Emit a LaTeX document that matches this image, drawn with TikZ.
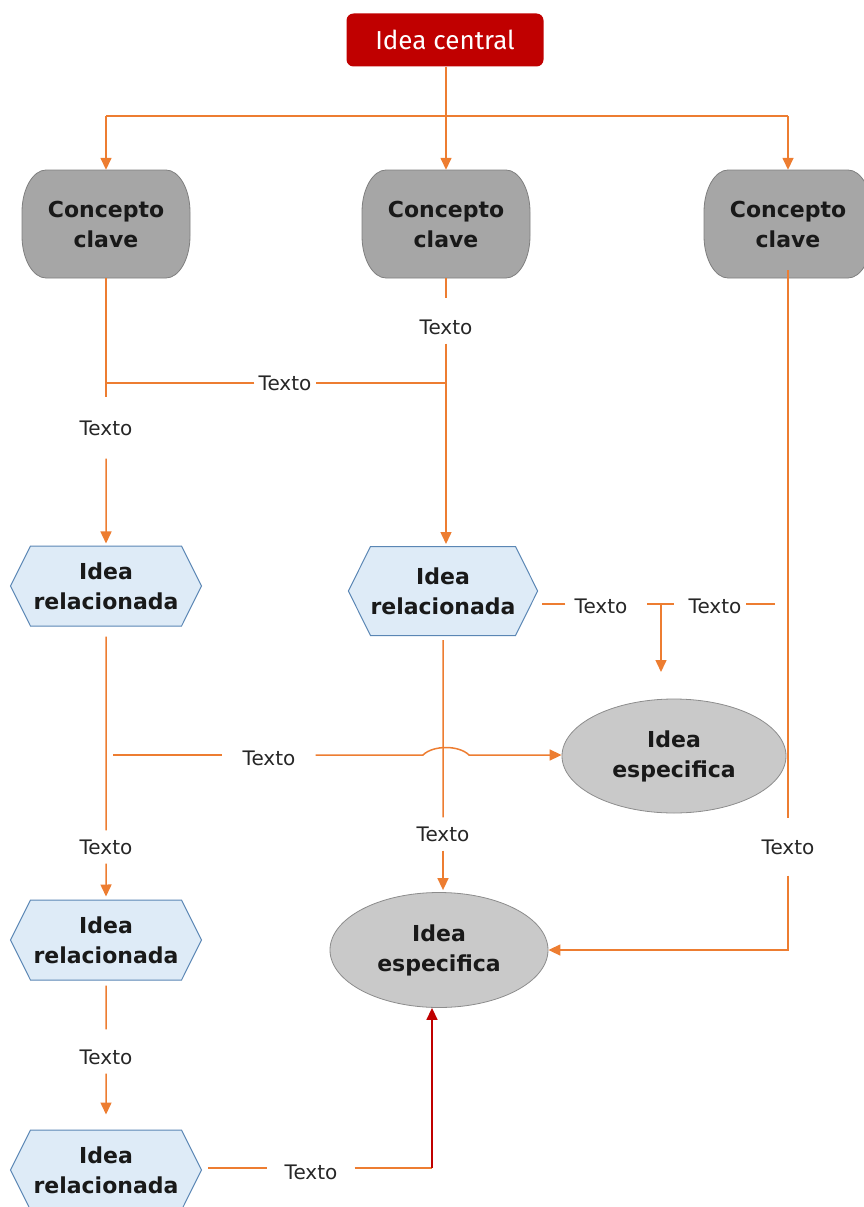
\documentclass[tikz,border=0pt]{standalone}
\usepackage{fontspec}
\setmainfont{DejaVu Sans}
\newfontfamily\centralfont{Fira Sans}
\usetikzlibrary{arrows.meta,shapes.symbols,shapes.geometric,backgrounds}
\definecolor{org}{HTML}{ED7D31}
\definecolor{dred}{HTML}{C00000}
\definecolor{cgray}{HTML}{A6A6A6}
\definecolor{cborder}{HTML}{7F7F7F}
\definecolor{hfill}{HTML}{DEEBF7}
\definecolor{hborder}{HTML}{5A86B4}
\definecolor{egray}{HTML}{C9C9C9}
\definecolor{eborder}{HTML}{8C8C8C}
\definecolor{textc}{HTML}{262626}
\newcommand\ckshape[1]{%
  \path[fill=cgray,draw=cborder,line width=0.8pt]
    ([shift={(-60,-54)}]#1.center) -- ([shift={(60,-54)}]#1.center)
    .. controls ([shift={(73,-54)}]#1.center) and ([shift={(84,-35)}]#1.center) .. ([shift={(84,-12)}]#1.center)
    -- ([shift={(84,12)}]#1.center)
    .. controls ([shift={(84,35)}]#1.center) and ([shift={(73,54)}]#1.center) .. ([shift={(60,54)}]#1.center)
    -- ([shift={(-60,54)}]#1.center)
    .. controls ([shift={(-73,54)}]#1.center) and ([shift={(-84,35)}]#1.center) .. ([shift={(-84,12)}]#1.center)
    -- ([shift={(-84,-12)}]#1.center)
    .. controls ([shift={(-84,-35)}]#1.center) and ([shift={(-73,-54)}]#1.center) .. cycle;}
\begin{document}
\begin{tikzpicture}[x=1pt,y=-1pt,
  conn/.style={draw=org,line width=1.5pt},
  arr/.style={conn,-{Triangle[width=11pt,length=12pt]}},
  redarr/.style={draw=dred,line width=1.5pt,-{Triangle[width=11pt,length=12pt]}},
  lbl/.style={font=\fontsize{20}{24}\selectfont,text=textc,inner xsep=6pt,inner ysep=9pt},
  central/.style={rectangle,rounded corners=7pt,fill=dred,text=white,minimum width=197pt,minimum height=53pt,font=\centralfont\fontsize{26}{30}\selectfont},
  concept/.style={rectangle,minimum width=168pt,minimum height=108pt,align=center,text=black!90,font=\bfseries\fontsize{22}{30}\selectfont},
  hexa/.style={signal,signal to=west and east,signal pointer angle=127,fill=hfill,draw=hborder,line width=1pt,minimum width=191pt,minimum height=80pt,inner sep=0pt,align=center,text=black!90,font=\bfseries\fontsize{22}{30}\selectfont},
  ell/.style={ellipse,fill=egray,draw=eborder,line width=0.8pt,minimum width=224pt,minimum height=114pt,inner sep=0pt,align=center,text=black!90,font=\bfseries\fontsize{22}{30}\selectfont}]
\useasboundingbox (0,0) rectangle (863,1207);

% nodes
\node[central] (ic) at (445,40) {Idea central};
\node[concept] (cL) at (106,224) {Concepto\\clave};
\node[concept] (cM) at (446,224) {Concepto\\clave};
\node[concept] (cR) at (788,224) {Concepto\\clave};
\begin{scope}[on background layer]
  \ckshape{cL}\ckshape{cM}\ckshape{cR}
\end{scope}
\node[hexa] (hL1) at (106,586) {Idea\\relacionada};
\node[hexa,minimum width=178pt,minimum height=89pt] (hM) at (443,591) {Idea\\relacionada};
\node[hexa] (hL2) at (106,940) {Idea\\relacionada};
\node[hexa] (hL3) at (106,1170) {Idea\\relacionada};
\node[ell] (eU) at (674,756) {Idea\\especifica};
\node[ell,minimum width=218pt,minimum height=115pt] (eL) at (439,950) {Idea\\especifica};

% labels
\node[lbl,inner ysep=23pt] (tL1) at (106,428) {Texto};
\node[lbl] (tM1) at (446,327) {Texto};
\node[lbl,inner xsep=4pt] (tH1) at (285,383) {Texto};
\node[lbl,inner xsep=9pt] (tE1) at (601,606) {Texto};
\node[lbl,inner xsep=4pt] (tE2) at (715,606) {Texto};
\node[lbl,inner xsep=20pt] (tJ) at (269,758) {Texto};
\node[lbl] (tL2) at (106,847) {Texto};
\node[lbl] (tM2) at (443,834) {Texto};
\node[lbl,inner ysep=21pt] (tR) at (788,847) {Texto};
\node[lbl] (tL3) at (106,1057) {Texto};
\node[lbl,inner xsep=17pt] (tB) at (311,1172) {Texto};

% coordinates
\coordinate (bar) at (446,116);
\coordinate (j1) at (446,383);
\coordinate (j2) at (661,604);
\coordinate (j2a) at (647,604);
\coordinate (j2b) at (674,604);
\coordinate (a2) at (661,672);
\coordinate (e2) at (775,604);
\coordinate (jA) at (113,755);
\coordinate (jb1) at (423,755);
\coordinate (jb2) at (469,755);
\coordinate (cB) at (432,1168);

% top connectors
\draw[arr] (ic.south -| cM) -- (cM.north);
\draw[conn] (bar -| cL) -- (bar -| cR);
\draw[arr] (bar -| cL) -- (cL.north);
\draw[arr] (bar -| cR) -- (cR.north);

% left column
\draw[conn] (cL) -- (tL1);
\draw[arr,shorten >=2pt] (tL1) -- (hL1);
\draw[conn,shorten <=10pt] (hL1) -- (tL2);
\draw[arr,shorten >=3pt] (tL2) -- (hL2);
\draw[conn,shorten <=5pt,shorten >=11pt] (hL2) -- (tL3);
\draw[arr,shorten >=15pt] (tL3) -- (hL3);

% middle column
\draw[conn,shorten >=12pt] (cM) -- (tM1);
\draw[arr,shorten >=2pt] (tM1) -- (tM1 |- hM.north);
\draw[conn] (j1) -- (tH1);
\draw[conn] (tH1) -- (j1 -| cL);
\draw[conn,shorten <=4pt] (hM) -- (tM2);
\draw[arr,shorten >=2pt] (tM2) -- (tM2 |- eL.north);

% right side of middle hexagon
\draw[conn,shorten >=4pt] (tE1.west |- j2) -- (j2 -| hM.east);
\draw[conn] (j2a) -- (j2b);
\draw[arr] (j2) -- (a2);
\draw[conn] (e2) -- (tE2.east |- e2);

% right column
\draw[conn] ([yshift=8pt]cR.south) -- (tR);
\draw[arr] (tR) |- (eL);

% jump line
\draw[conn] (jA) -- (tJ.west |- jA);
\draw[arr] (tJ.east |- jb1) -- (jb1) .. controls (433,745) and (459,745) .. (jb2) -- (eU.west |- jb2);

% bottom
\draw[conn,shorten <=6pt] (hL3.east |- cB) -- (tB.west |- cB);
\draw[conn] (tB.east |- cB) -- (cB);
\draw[redarr] (cB) -- (cB |- eL.south);
\end{tikzpicture}
\end{document}
